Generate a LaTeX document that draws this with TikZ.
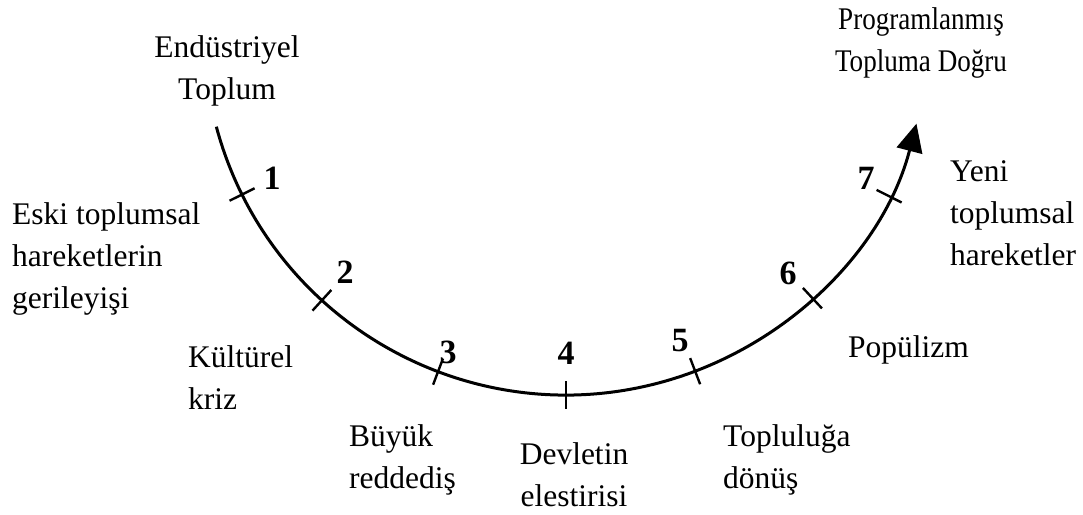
\documentclass[tikz,border=0pt]{standalone}
\usepackage{fontspec}
\usepackage{graphicx}
\setmainfont{Liberation Serif}
\usetikzlibrary{arrows.meta}
\tikzset{
  lbl/.style={font=\fontsize{31.5}{42}\selectfont, inner sep=0pt},
  num/.style={font=\fontsize{34}{38}\selectfont\bfseries, inner sep=0pt},
  curve/.style={line width=3pt, -{Triangle[length=28pt,width=26pt]}},
  tick/.style={line width=2.4pt}
}
\begin{document}
\begin{tikzpicture}[x=1pt,y=1pt]
\useasboundingbox (0,0) rectangle (1083,-514);
\coordinate (c) at (566,-33);
% arc
\draw[curve] ([shift={(195:362)}]c) arc[start angle=195, end angle=345.5, radius=362];
% ticks
\foreach \a [count=\i] in {206.5,227.6,249.3,270,290.9,312.9,333.2}{
  \coordinate (t\i) at ([shift={(\a:362)}]c);
  \coordinate (ti\i) at ([shift={(\a:348)}]c);
  \coordinate (to\i) at ([shift={(\a:376)}]c);
  \draw[tick] (ti\i) -- (to\i);
}
% numbers
\node[num] (n1) at (272,-178) {1};
\node[num] (n2) at (345,-272) {2};
\node[num] (n3) at (448,-352) {3};
\node[num] (n4) at (566,-353) {4};
\node[num] (n5) at (680,-341) {5};
\node[num] (n6) at (788,-273) {6};
\node[num] (n7) at (866,-178) {7};
% labels
\node[lbl, align=center, anchor=north] (ind) at (227,-35) {Endüstriyel\\Toplum};
\node[lbl, anchor=north] (prog) at (921,0) {\scalebox{0.86}[1]{\begin{tabular}{@{}c@{}}Programlanmış\\Topluma Doğru\end{tabular}}};
\node[lbl, align=left, anchor=north west] (eski) at (12,-202) {Eski toplumsal\\hareketlerin\\gerileyişi};
\node[lbl, align=left, anchor=north west] (kult) at (188,-345) {Kültürel\\kriz};
\node[lbl, align=left, anchor=north west] (buyuk) at (349,-424) {Büyük\\reddediş};
\node[lbl, align=center, anchor=north] (devlet) at (574,-442) {Devletin\\elestirisi};
\node[lbl, align=left, anchor=north west] (topl) at (723,-424) {Topluluğa\\dönüş};
\node[lbl, align=left, anchor=north west] (pop) at (848,-335) {Popülizm};
\node[lbl, align=left, anchor=north west] (yeni) at (950,-160) {Yeni\\toplumsal\\hareketler};
\end{tikzpicture}
\end{document}
